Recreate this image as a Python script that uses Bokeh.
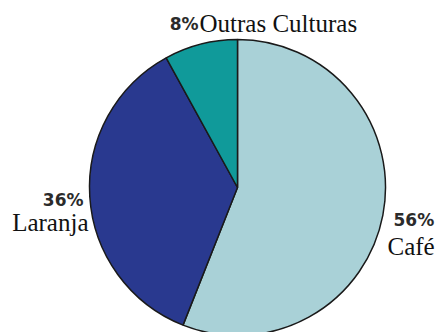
import math
from bokeh.plotting import figure
from bokeh.models import ColumnDataSource, Range1d
from bokeh.core.properties import value
from bokeh.embed import file_html
from bokeh.resources import INLINE

# ---- data ----
categories = ["Café", "Laranja", "Outras Culturas"]
shares = [56, 36, 8]
pct_labels = ["56%", "36%", "8%"]
colors = ["#a9d1d7", "#29398f", "#109a9a"]

# ---- layout (pixels) ----
W, H = 436, 332
CX, CY, R = 237, 145, 148
# label anchors: (pct_x, pct_y, pct_align, name_x, name_y, name_align)
label_layout = [
    (393, 113, "left", 387, 86, "left"),
    (83, 133, "right", 88, 110, "right"),
    (198, 309, "right", 199, 309, "left"),
]

total = float(sum(shares))
starts, ends = [], []
cum = 0.0
for s in shares:
    starts.append(math.pi / 2 - 2 * math.pi * cum / total)
    cum += s
    ends.append(math.pi / 2 - 2 * math.pi * cum / total)

src = ColumnDataSource(dict(start=starts, end=ends, color=colors,
                            x=[CX] * len(shares), y=[CY] * len(shares)))

p = figure(width=W, height=H, output_backend="svg", toolbar_location=None,
           x_range=Range1d(0, W), y_range=Range1d(0, H), min_border=0)
p.axis.visible = False
p.grid.visible = False
p.outline_line_color = None
p.background_fill_color = "white"
p.border_fill_color = "white"

p.wedge(x="x", y="y", radius=R, radius_units="screen", start_angle="start", end_angle="end",
        direction="clock", fill_color="color", line_color="#1a1a1a", line_width=1.5, source=src)

pct_src = ColumnDataSource(dict(
    x=[l[0] for l in label_layout], y=[l[1] for l in label_layout],
    t=pct_labels, a=[l[2] for l in label_layout]))
name_src = ColumnDataSource(dict(
    x=[l[3] for l in label_layout], y=[l[4] for l in label_layout],
    t=categories, a=[l[5] for l in label_layout]))

p.text(x="x", y="y", text="t", text_align="a", text_baseline="alphabetic",
       text_font=value("DejaVu Sans"), text_font_style="bold", text_font_size="17px",
       text_color="#2b2b2b", source=pct_src)
p.text(x="x", y="y", text="t", text_align="a", text_baseline="alphabetic",
       text_font=value("Liberation Serif"), text_font_size="25px",
       text_color="#111111", source=name_src)

open("out.html", "w").write(file_html(p, INLINE))
